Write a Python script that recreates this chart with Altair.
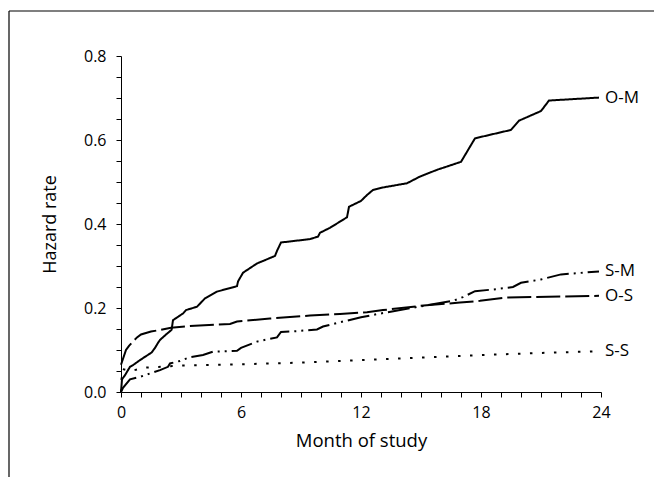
import altair as alt
import pandas as pd

# O-M (solid)
om_month = [0, 0.05, 0.2, 0.45, 0.6, 0.95, 1.53, 1.7, 1.85, 1.95, 2.28, 2.53, 2.6, 2.85, 3.1, 3.25,
            3.8, 4.2, 4.8, 5.8, 5.85, 6.1, 6.8, 7.7, 7.8, 8.0, 9.45, 9.85, 9.95, 10.45, 11.3, 11.4,
            12.0, 12.3, 12.6, 13.1, 14.3, 14.95, 15.8, 17.0, 17.5, 17.7, 19.5, 19.9, 21.0, 21.4, 23.9]
om_value = [0, 0.03, 0.04, 0.06, 0.064, 0.076, 0.094, 0.105, 0.117, 0.124, 0.138, 0.148, 0.171, 0.179,
            0.187, 0.195, 0.203, 0.223, 0.239, 0.252, 0.263, 0.284, 0.306, 0.324, 0.336, 0.356, 0.364,
            0.37, 0.379, 0.391, 0.416, 0.441, 0.455, 0.469, 0.481, 0.487, 0.497, 0.513, 0.529, 0.548,
            0.588, 0.604, 0.624, 0.646, 0.669, 0.694, 0.701]

# O-S (long dash)
os_month = [0, 0.25, 0.4, 0.8, 1.0, 1.5, 2.0, 2.5, 3.45, 5.45, 5.8, 7.45, 9.45, 10.95, 12.3, 13.1,
            14.95, 16.95, 17.95, 19.3, 23.9]
os_value = [0.065, 0.10, 0.11, 0.13, 0.137, 0.144, 0.148, 0.153, 0.157, 0.162, 0.168, 0.175, 0.182,
            0.186, 0.19, 0.195, 0.205, 0.213, 0.217, 0.225, 0.229]

# S-M (dash-dot-dot)
sm_month = [0, 0.1, 0.45, 0.95, 1.95, 2.35, 2.45, 2.95, 3.45, 4.1, 4.6, 5.8, 6.0, 6.8, 7.8, 8.0, 8.8,
            9.8, 10.1, 11.3, 12.0, 13.1, 15.95, 16.6, 17.1, 17.7, 18.8, 19.6, 20.0, 21.0, 22.0, 23.9]
sm_value = [0, 0.01, 0.03, 0.036, 0.052, 0.06, 0.068, 0.074, 0.083, 0.088, 0.096, 0.098, 0.105, 0.12,
            0.13, 0.143, 0.145, 0.149, 0.156, 0.17, 0.178, 0.188, 0.212, 0.217, 0.226, 0.24, 0.245,
            0.25, 0.26, 0.268, 0.28, 0.287]

# S-S (dotted)
ss_month = [0, 0.05, 0.5, 1.2, 2, 3, 6, 9, 12, 15, 18, 21, 23.9]
ss_value = [0, 0.055, 0.05, 0.058, 0.06, 0.063, 0.066, 0.07, 0.076, 0.082, 0.088, 0.093, 0.097]

series_names = ["O-M", "S-M", "O-S", "S-S"]
y_ticks = [round(i * 0.05, 2) for i in range(17)]
x_ticks = list(range(25))

rows = []
for name, ms, vs in [("O-M", om_month, om_value), ("S-M", sm_month, sm_value),
                     ("O-S", os_month, os_value), ("S-S", ss_month, ss_value)]:
    for i, (m, v) in enumerate(zip(ms, vs)):
        rows.append({"series": name, "month": m, "value": v, "order": i})
df = pd.DataFrame(rows)
labels_df = df.sort_values("order").groupby("series").tail(1)

FONT = "Open Sans"

x_enc = alt.X("month:Q",
              scale=alt.Scale(domain=[0, 24], nice=False, zero=False),
              axis=alt.Axis(values=x_ticks, title="Month of study",
                            labelExpr="datum.value % 6 == 0 ? datum.label : ''",
                            labelOverlap=False, labelFlush=False, grid=False, tickSize=5,
                            labelPadding=7, titlePadding=11, labelFontSize=16, titleFontSize=18.5,
                            titleFontWeight="normal", labelFont=FONT, titleFont=FONT,
                            domainColor="black", tickColor="black", labelColor="black",
                            titleColor="black"))
y_enc = alt.Y("value:Q",
              scale=alt.Scale(domain=[0, 0.8], nice=False),
              axis=alt.Axis(values=y_ticks, title="Hazard rate",
                            labelExpr="abs(datum.value*5 - round(datum.value*5)) < 0.001 ? format(datum.value, '.1f') : ''",
                            labelOverlap=False, labelFlush=False, grid=False, tickSize=5,
                            labelPadding=10, titlePadding=24, labelFontSize=16, titleFontSize=18,
                            titleFontWeight="normal", labelFont=FONT, titleFont=FONT,
                            domainColor="black", tickColor="black", labelColor="black",
                            titleColor="black"))

lines = alt.Chart(df).mark_line(color="black", strokeWidth=2, interpolate="linear").encode(
    x=x_enc,
    y=y_enc,
    order="order:Q",
    detail="series:N",
    strokeDash=alt.StrokeDash("series:N",
                              scale=alt.Scale(domain=series_names,
                                              range=[[1, 0], [22, 5, 2, 5, 2, 5], [24, 5], [2.5, 9.5]]),
                              legend=None),
)

labels = alt.Chart(labels_df).mark_text(align="left", baseline="middle", dx=6, fontSize=17,
                                        font=FONT, color="black").encode(
    x=x_enc, y=y_enc, text="series:N")

frame_top = alt.Chart(pd.DataFrame({"a": [0]})).mark_rule(color="black", strokeWidth=1.2).encode(
    x=alt.value(-112), x2=alt.value(545), y=alt.value(-45))
frame_left = alt.Chart(pd.DataFrame({"a": [0]})).mark_rule(color="black", strokeWidth=1.2).encode(
    x=alt.value(-112), y=alt.value(-45), y2=alt.value(430))

chart = alt.layer(lines, labels, frame_top, frame_left).properties(
    width=480, height=336,
    background="white",
    autosize=alt.AutoSizeParams(type="none"),
    padding={"left": 113, "top": 48, "right": 53, "bottom": 85},
).configure_view(stroke=None)

chart.save("out.html", embed_options={"renderer": "svg", "actions": False})
